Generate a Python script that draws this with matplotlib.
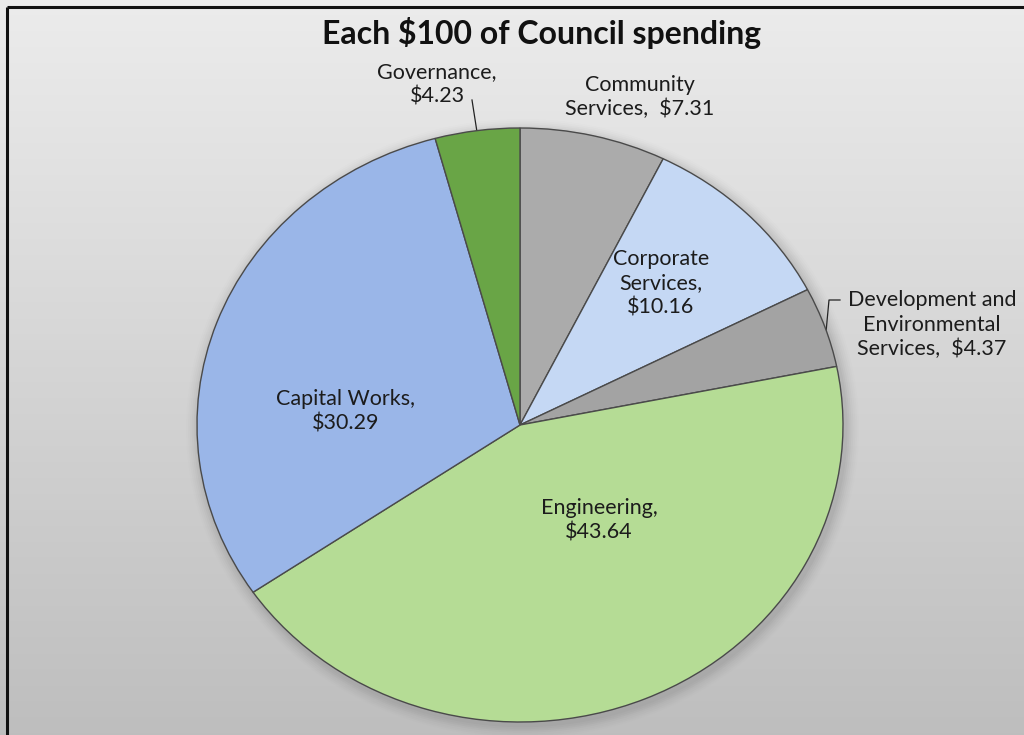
import numpy as np
import matplotlib
matplotlib.use("Agg")
import matplotlib.pyplot as plt
from matplotlib.patches import Ellipse

# Spending per $100, clockwise from 12 o'clock
categories = ["Community Services", "Corporate Services",
              "Development and Environmental Services", "Engineering",
              "Capital Works", "Governance"]
values = [7.31, 10.16, 4.37, 43.64, 30.29, 4.23]
title = "Each $100 of Council spending"

colors = ["#ababab", "#c5d8f4", "#a3a3a3", "#b5dc95", "#9ab6e8", "#69a546"]

# label line breaks and positions (figure pixels, top-left origin)
label_lines = [
    ["Community", "Services,  ${v:.2f}"],
    ["Corporate", "Services,", "${v:.2f}"],
    ["Development and", "Environmental", "Services,  ${v:.2f}"],
    ["Engineering,", "${v:.2f}"],
    ["Capital Works,", "${v:.2f}"],
    ["Governance,", "${v:.2f}"],
]
label_xy = [(640, 97), (661, 283), (932, 325), (599, 520), (346, 411), (437, 84)]

W, H = 1024, 735
fig = plt.figure(figsize=(W / 100, H / 100), dpi=100)
FONT = "Lato"

def fx(px):
    return px / W

def fy(py):
    return 1 - py / H

# background gradient
bg = fig.add_axes([0, 0, 1, 1])
grad = np.linspace(0, 1, 256).reshape(-1, 1)
top = np.array([0.925, 0.925, 0.925])
bot = np.array([0.745, 0.745, 0.745])
img = top + (bot - top) * grad[..., None]
img = np.repeat(img, 4, axis=1)
bg.imshow(img, aspect="auto", extent=[0, 1, 0, 1], origin="upper")
bg.set_xlim(0, 1)
bg.set_ylim(0, 1)
bg.axis("off")

# frame lines (top and left)
bg.plot([fx(7), 1.0], [fy(7), fy(7)], color="#111111", lw=2.2,
        solid_capstyle="butt")
bg.plot([fx(7), fx(7)], [fy(7), 0], color="#111111", lw=2.2,
        solid_capstyle="butt")

# pie area
cx, cy, rx, ry = 520, 425, 323, 297
ax = fig.add_axes([fx(cx - rx), fy(cy + ry), 2 * rx / W, 2 * ry / H])
ax.set_xlim(-1, 1)
ax.set_ylim(-1, 1)
ax.axis("off")

# soft shadow behind the pie
for i, a in enumerate(np.linspace(0.05, 0.012, 7)):
    grow = 1 + 0.006 * (i + 1)
    ax.add_patch(Ellipse((0.008, -0.012), 2 * grow, 2 * grow,
                         facecolor="#555555", edgecolor="none", alpha=a,
                         zorder=0, clip_on=False))

wedges, _ = ax.pie(values, colors=colors, startangle=90, counterclock=False,
                   radius=1,
                   wedgeprops=dict(edgecolor="#4a4a4a", linewidth=1.0))
for w in wedges:
    w.set_zorder(2)
ax.set_xlim(-1, 1)
ax.set_ylim(-1, 1)
ax.set_aspect("auto")

# title
fig.text(fx(542), fy(33), title, ha="center", va="center",
         fontsize=23, fontweight="bold", family=FONT, color="#111111")

# data labels
for lines, val, (px, py) in zip(label_lines, values, label_xy):
    txt = "\n".join(s.format(v=val) if "{" in s else s for s in lines)
    fig.text(fx(px), fy(py), txt, ha="center", va="center", fontsize=15.5,
             family=FONT, color="#1c1c1c", linespacing=1.27)

# leader lines
bg.plot([fx(477), fx(472)], [fy(132), fy(100)], color="#222222", lw=0.9)
bg.plot([fx(826), fx(829), fx(840)], [fy(332), fy(300), fy(300)],
        color="#222222", lw=0.9)

fig.savefig("out.png", dpi=100)
